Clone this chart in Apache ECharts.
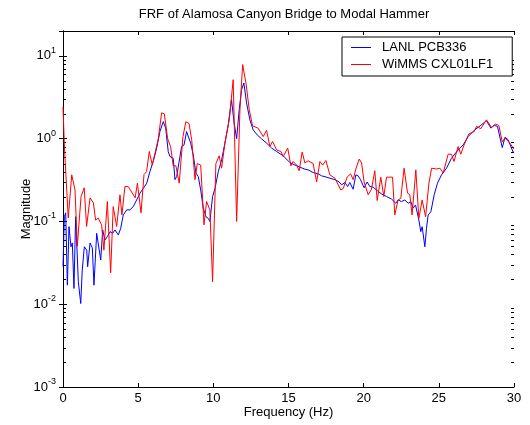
<!DOCTYPE html>
<html>
<head>
<meta charset="utf-8">
<script src="https://cdn.jsdelivr.net/npm/echarts@6/dist/echarts.min.js"></script>
<style>
  html, body { margin: 0; padding: 0; background: #fff; }
  #chart { width: 530px; height: 425px; }
</style>
</head>
<body>
<div id="chart"></div>
<script>
// FRF magnitudes (frequency in Hz)
var lanlFreq = [0, 0.09, 0.18, 0.29, 0.4, 0.53, 0.62, 0.73, 0.84, 1.02, 1.18, 1.28, 1.42, 1.58, 1.64, 1.8, 1.95, 2.06, 2.24, 2.35,
  2.51, 2.64, 2.79, 2.95, 3.13, 3.3, 3.46, 3.68, 3.84, 4.01, 4.24, 4.45, 4.67, 4.9, 5.12, 5.34, 5.57, 5.78, 6.0, 6.23,
  6.45, 6.67, 6.83, 7.0, 7.11, 7.33, 7.45, 7.56, 7.67, 7.89, 8.05, 8.22, 8.33, 8.49, 8.66, 8.84, 9.0, 9.16, 9.33, 9.51,
  9.66, 9.77, 9.95, 10.11, 10.33, 10.55, 10.77, 10.99, 11.21, 11.37, 11.55, 11.72, 11.88, 12.03, 12.21, 12.43, 12.65, 12.92, 13.21, 13.54,
  13.88, 14.21, 14.65, 15.09, 15.43, 15.76, 16.09, 16.31, 16.64, 16.97, 17.2, 17.53, 17.75, 18.09, 18.37, 18.53, 18.75, 18.93, 19.08, 19.3,
  19.48, 19.63, 19.79, 20.03, 20.23, 20.41, 20.63, 20.9, 21.19, 21.52, 21.86, 22.14, 22.29, 22.52, 22.74, 22.96, 23.14, 23.29, 23.45, 23.67,
  23.8, 23.89, 24.07, 24.18, 24.29, 24.47, 24.69, 24.91, 25.18, 25.51, 25.84, 26.28, 26.62, 26.95, 27.39, 27.79, 28.17, 28.46, 28.68, 28.9,
  29.22, 29.4, 29.61, 29.94, 30];
var lanlMag = [0.0284, 0.114, 0.127, 0.017, 0.0865, 0.0495, 0.055, 0.0155, 0.114, 0.0187, 0.0102, 0.0259, 0.0495, 0.045, 0.0284, 0.055, 0.0478, 0.017, 0.072, 0.0687,
  0.0342, 0.079, 0.0597, 0.0655, 0.0753, 0.072, 0.079, 0.0687, 0.0828, 0.12, 0.138, 0.138, 0.151, 0.182, 0.22, 0.25, 0.29, 0.40, 0.53, 0.77,
  1.22, 1.61, 1.34, 0.7, 0.61, 0.58, 0.32, 0.348, 0.333, 0.805, 0.84, 1.22, 1.22, 0.885, 0.64, 0.384, 0.348, 0.24, 0.145, 0.114,
  0.109, 0.10, 0.20, 0.25, 0.40, 0.555, 0.885, 1.47, 2.96, 1.61, 1.0, 2.24, 3.91, 4.71, 2.7, 1.69, 1.28, 1.11, 0.995, 0.885,
  0.77, 0.70, 0.62, 0.515, 0.48, 0.453, 0.428, 0.42, 0.39, 0.376, 0.356, 0.343, 0.333, 0.32, 0.30, 0.277, 0.295, 0.264, 0.295, 0.245,
  0.366, 0.356, 0.32, 0.255, 0.30, 0.264, 0.26, 0.236, 0.215, 0.20, 0.186, 0.166, 0.182, 0.174, 0.182, 0.166, 0.174, 0.145, 0.158, 0.104,
  0.0753, 0.0865, 0.0495, 0.0828, 0.12, 0.131, 0.21, 0.29, 0.366, 0.44, 0.58, 0.73, 0.84, 1.06, 1.28, 1.45, 1.65, 1.34, 1.45, 1.41,
  0.78, 1.04, 0.97, 0.69, 0.68];

var wimmsFreq = [0, 0.1, 0.35, 0.58, 0.8, 0.95, 1.2, 1.41, 1.57, 1.8, 2.02, 2.17, 2.34, 2.57, 2.72, 2.95, 3.17, 3.34, 3.57, 3.79,
  3.92, 4.12, 4.34, 4.8, 4.95, 5.19, 5.39, 5.56, 5.74, 5.94, 6.12, 6.34, 6.56, 6.74, 6.96, 7.16, 7.33, 7.51, 7.73, 7.98,
  8.17, 8.38, 8.56, 8.78, 8.93, 9.16, 9.38, 9.55, 9.77, 9.95, 10.17, 10.39, 10.55, 10.77, 11.06, 11.32, 11.55, 11.77, 11.95, 12.17,
  12.39, 12.61, 12.98, 13.32, 13.54, 13.76, 13.94, 14.21, 14.5, 14.65, 14.78, 14.95, 15.16, 15.31, 15.54, 15.71, 15.91, 16.09, 16.31, 16.64,
  16.87, 17.09, 17.27, 17.49, 17.75, 18.09, 18.48, 18.64, 18.9, 19.13, 19.3, 19.48, 19.7, 19.86, 20.03, 20.3, 20.52, 20.74, 20.9, 21.14,
  21.34, 21.52, 21.92, 22.07, 22.29, 22.47, 22.69, 22.92, 23.07, 23.22, 23.47, 23.67, 23.89, 24.12, 24.34, 24.52, 24.85, 25.07, 25.29, 25.62,
  25.84, 26.01, 26.28, 26.46, 26.68, 26.99, 27.35, 27.51, 27.79, 28.17, 28.5, 28.77, 28.99, 29.22, 29.4, 29.61, 29.94, 30];
var wimmsMag = [2.4, 0.75, 0.11, 0.366, 0.24, 0.05, 0.20, 0.255, 0.087, 0.193, 0.168, 0.104, 0.11, 0.091, 0.045, 0.174, 0.024, 0.151, 0.087, 0.21,
  0.12, 0.264, 0.264, 0.193, 0.29, 0.127, 0.37, 0.40, 0.70, 0.48, 0.67, 1.0, 2.05, 2.0, 1.0, 0.80, 0.47, 0.47, 0.29, 1.06,
  1.6, 1.53, 0.97, 0.32, 0.50, 0.48, 0.091, 0.174, 0.138, 0.0187, 0.50, 0.62, 0.44, 0.885, 1.69, 5.17, 0.10, 2.24, 7.85, 4.71,
  2.24, 1.43, 1.34, 1.06, 1.26, 0.805, 0.925, 0.73, 0.70, 0.61, 0.62, 0.77, 0.47, 0.53, 0.48, 0.41, 0.69, 0.51, 0.54, 0.50,
  0.30, 0.53, 0.48, 0.545, 0.366, 0.333, 0.24, 0.25, 0.343, 0.376, 0.32, 0.43, 0.567, 0.51, 0.30, 0.21, 0.245, 0.41, 0.179, 0.343,
  0.20, 0.343, 0.343, 0.12, 0.182, 0.19, 0.44, 0.22, 0.21, 0.12, 0.42, 0.109, 0.182, 0.114, 0.29, 0.44, 0.43, 0.44, 0.384, 0.65,
  0.65, 0.53, 0.805, 0.65, 0.84, 1.14, 1.22, 1.41, 1.32, 1.69, 1.37, 1.50, 1.45, 0.91, 1.02, 0.94, 0.78, 0.75];

var xTicks = [0, 5, 10, 15, 20, 25, 30];
var decades = [-3, -2, -1, 0, 1];

var FONT = 'Liberation Sans';

function pairs(xs, ys) {
  var out = [];
  for (var i = 0; i < xs.length; i++) out.push([xs[i], ys[i]]);
  return out;
}

var chart = echarts.init(document.getElementById('chart'));

var tickStyle = { show: true, inside: true, length: 4, lineStyle: { color: '#000', width: 1 } };
var lineStyle = { show: true, lineStyle: { color: '#000', width: 1 } };

var option = {
  animation: false,
  backgroundColor: '#fff',
  title: {
    text: 'FRF of Alamosa Canyon Bridge to Modal Hammer',
    left: 284, top: 8, padding: 0,
    textAlign: 'center',
    textStyle: { fontFamily: FONT, fontSize: 13, fontWeight: 'normal', color: '#000' }
  },
  legend: {
    orient: 'vertical',
    left: 342, top: 37,
    padding: [3, 19, 4, 9],
    itemGap: 2,
    itemWidth: 20, itemHeight: 1,
    icon: 'rect',
    borderColor: '#000', borderWidth: 1,
    backgroundColor: '#fff',
    textStyle: { fontFamily: FONT, fontSize: 13, color: '#000', lineHeight: 15, padding: [0, 0, 0, 6] },
    data: ['LANL PCB336', 'WiMMS CXL01LF1']
  },
  grid: { left: 63, right: 16, top: 31, bottom: 38 },
  xAxis: [{
    type: 'value', min: 0, max: 30, interval: 5, position: 'bottom',
    name: 'Frequency (Hz)', nameLocation: 'middle', nameGap: 19, nameMoveOverlap: false,
    nameTextStyle: { fontFamily: FONT, fontSize: 13, color: '#000' },
    axisLine: lineStyle, axisTick: tickStyle,
    axisLabel: { fontFamily: FONT, fontSize: 13, color: '#000', margin: 5,
      formatter: function (v) { return xTicks.indexOf(v) >= 0 ? String(v) : ''; } },
    splitLine: { show: false }
  }, {
    type: 'value', min: 0, max: 30, interval: 5, position: 'top',
    axisLine: lineStyle, axisTick: tickStyle, axisLabel: { show: false },
    splitLine: { show: false }
  }],
  yAxis: [{
    type: 'log', logBase: 10, min: 0.001, max: 20, position: 'left',
    name: 'Magnitude', nameLocation: 'middle', nameGap: 30, nameMoveOverlap: false,
    nameTextStyle: { fontFamily: FONT, fontSize: 13, color: '#000' },
    axisLine: lineStyle, axisTick: tickStyle,
    axisLabel: {
      margin: 7,
      formatter: function (v) {
        var e = Math.round(Math.log10(v));
        if (Math.abs(Math.log10(v) - e) > 1e-6 || decades.indexOf(e) < 0) return '';
        return '{b|10}{e|' + e + '}';
      },
      rich: {
        b: { fontFamily: FONT, fontSize: 13, color: '#000', lineHeight: 20, verticalAlign: 'middle' },
        e: { fontFamily: FONT, fontSize: 9, color: '#000', verticalAlign: 'top' }
      }
    },
    splitLine: { show: false }
  }, {
    type: 'log', logBase: 10, min: 0.001, max: 20, position: 'right',
    axisLine: lineStyle, axisTick: tickStyle, axisLabel: { show: false },
    splitLine: { show: false }
  }],
  series: [{
    name: 'LANL PCB336', type: 'line', showSymbol: false, symbol: 'none',
    color: '#0000ff', lineStyle: { color: '#0000ff', width: 1 },
    data: pairs(lanlFreq, lanlMag)
  }, {
    name: 'WiMMS CXL01LF1', type: 'line', showSymbol: false, symbol: 'none',
    color: '#ff0000', lineStyle: { color: '#ff0000', width: 1 },
    data: pairs(wimmsFreq, wimmsMag)
  }]
};

chart.setOption(option);

// log minor ticks (2..9 x 10^k) on left and right edges, placed via the axis scale
var rect = chart.getModel().getComponent('grid', 0).coordinateSystem.getRect();
var minor = [];
decades.forEach(function (d) {
  for (var k = 2; k <= 9; k++) {
    var v = k * Math.pow(10, d);
    if (v > 20) continue;
    var y = Math.round(chart.convertToPixel({ yAxisIndex: 0 }, v)) + 0.5;
    minor.push({ type: 'line', silent: true, shape: { x1: rect.x, y1: y, x2: rect.x + 3, y2: y }, style: { stroke: '#000', lineWidth: 1 } });
    minor.push({ type: 'line', silent: true, shape: { x1: rect.x + rect.width, y1: y, x2: rect.x + rect.width - 3, y2: y }, style: { stroke: '#000', lineWidth: 1 } });
  }
});
chart.setOption({ graphic: minor });
</script>
</body>
</html>
